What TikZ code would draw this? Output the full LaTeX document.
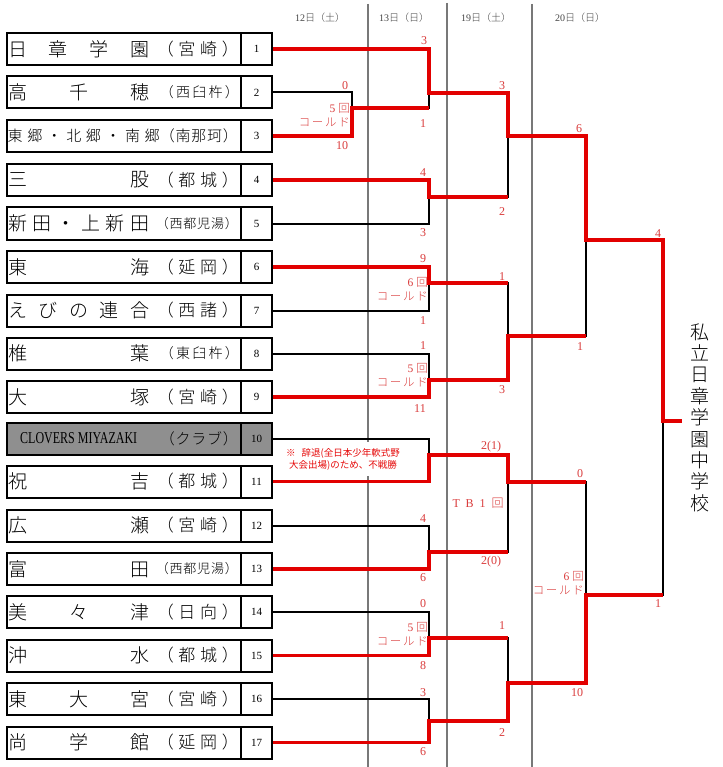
\documentclass[tikz,border=0pt]{standalone}
\usepackage{fontspec}
\setmainfont{Liberation Serif}
\newfontfamily\jp{Noto Sans CJK JP Light}
\newfontfamily\jpn{Noto Sans CJK JP}
\definecolor{lnred}{RGB}{226,0,0}
\definecolor{txtred}{RGB}{218,60,60}
\definecolor{notered}{RGB}{230,10,10}
\definecolor{sepgray}{RGB}{120,120,120}
\definecolor{boxgray}{RGB}{143,143,143}
\definecolor{hdrgray}{RGB}{70,70,70}
\newcommand\jspread[2]{\makebox[#1][s]{#2}}
\begin{document}
\begin{tikzpicture}[x=1pt,y=-1pt,
 namebox/.style={draw, line width=2pt, minimum width=234pt, minimum height=32pt, inner sep=0pt},
 numbox/.style={draw, line width=2pt, minimum width=31pt, minimum height=32pt, inner sep=0pt, font=\fontsize{11}{11}\selectfont},
 tname/.style={anchor=west, inner sep=0pt, font=\fontsize{19}{19}\jp},
 tpref/.style={anchor=east, inner sep=0pt},
 blk/.style={line width=2pt, black, line join=miter},
 rd/.style={line width=3.5pt, lnred, line join=miter},
 sc/.style={text=txtred, inner sep=0pt, font=\fontsize{12}{12}\selectfont},
 cold/.style={text=txtred, inner sep=0pt, anchor=east, align=right, font=\fontsize{11.5}{14.5}\selectfont},
 sepline/.style={line width=1.1pt, sepgray},
 hdr/.style={text=hdrgray, inner sep=0pt, font=\fontsize{10}{10}\selectfont}
]
\useasboundingbox (0,0) rectangle (722,767);
\fill[white] (0,0) rectangle (722,767);

% column separators
\draw[sepline] (368,4) -- (368,767);
\draw[sepline] (447,3) -- (447,767);
\draw[sepline] (532,4) -- (532,767);

% header
\node[hdr] (h1) at (320,18) {12{\jp 日（土）}};
\node[hdr] (h2) at (404,18) {13{\jp 日（日）}};
\node[hdr] (h3) at (486,18) {19{\jp 日（土）}};
\node[hdr] (h4) at (580,18) {20{\jp 日（日）}};

% team boxes
\foreach \i/\y in {1/49,2/92.5,3/136,4/180,5/223.5,6/267,7/310.5,8/353.5,9/397,11/481.5,12/525.5,13/569,14/612,15/655.5,16/699,17/742.5}{
  \node[namebox] (b\i) at (124,\y) {};
  \node[numbox] (n\i) at (256.5,\y) {\i};
}
\node[namebox, fill=boxgray] (b10) at (124,438.5) {};
\node[numbox, fill=boxgray] (n10) at (256.5,438.5) {10};

% team names
\node[tname] (a1) at (8,49) {\jspread{141pt}{日\hfill 章\hfill 学\hfill 園}};
\node[tpref, font=\fontsize{17}{17}\jp] (p1) at (239,49) {\jspread{82pt}{（\hfill 宮\hfill 崎\hfill ）}};
\node[tname] (a2) at (8,92.5) {\jspread{141pt}{高\hfill 千\hfill 穂}};
\node[tpref, font=\fontsize{14}{14}\jp] (p2) at (239,92.5) {\jspread{79pt}{（\hfill 西\hfill 臼\hfill 杵\hfill ）}};
\node[tname, font=\fontsize{15}{15}\jp] (a3) at (7.5,136) {\jspread{152pt}{東\hfill 郷\hfill ・\hfill 北\hfill 郷\hfill ・\hfill 南\hfill 郷}};
\node[tpref, font=\fontsize{15}{15}\jp] (p3) at (238,136) {\jspread{78pt}{（\hfill 南\hfill 那\hfill 珂\hfill ）}};
\node[tname] (a4) at (8,180) {\jspread{141pt}{三\hfill 股}};
\node[tpref, font=\fontsize{17}{17}\jp] (p4) at (239,180) {\jspread{82pt}{（\hfill 都\hfill 城\hfill ）}};
\node[tname] (a5) at (8,223.5) {\jspread{141pt}{新\hfill 田\hfill ・\hfill 上\hfill 新\hfill 田}};
\node[tpref, font=\fontsize{13}{13}\jp] (p5) at (238,223.5) {\jspread{82pt}{（\hfill 西\hfill 都\hfill 児\hfill 湯\hfill ）}};
\node[tname] (a6) at (8,267) {\jspread{141pt}{東\hfill 海}};
\node[tpref, font=\fontsize{17}{17}\jp] (p6) at (239,267) {\jspread{82pt}{（\hfill 延\hfill 岡\hfill ）}};
\node[tname] (a7) at (8,310.5) {\jspread{141pt}{え\hfill び\hfill の\hfill 連\hfill 合}};
\node[tpref, font=\fontsize{17}{17}\jp] (p7) at (239,310.5) {\jspread{82pt}{（\hfill 西\hfill 諸\hfill ）}};
\node[tname] (a8) at (8,353.5) {\jspread{141pt}{椎\hfill 葉}};
\node[tpref, font=\fontsize{14}{14}\jp] (p8) at (239,353.5) {\jspread{79pt}{（\hfill 東\hfill 臼\hfill 杵\hfill ）}};
\node[tname] (a9) at (8,397) {\jspread{141pt}{大\hfill 塚}};
\node[tpref, font=\fontsize{17}{17}\jp] (p9) at (239,397) {\jspread{82pt}{（\hfill 宮\hfill 崎\hfill ）}};
\node[anchor=west, inner sep=0pt] (a10) at (20,438.5) {\resizebox{117pt}{11pt}{\fontsize{14}{14}\selectfont CLOVERS MIYAZAKI}};
\node[tpref, font=\fontsize{15}{15}\jp] (p10) at (238,438.5) {\jspread{78pt}{（\hfill ク\hfill ラ\hfill ブ\hfill ）}};
\node[tname] (a11) at (8,481.5) {\jspread{141pt}{祝\hfill 吉}};
\node[tpref, font=\fontsize{17}{17}\jp] (p11) at (239,481.5) {\jspread{82pt}{（\hfill 都\hfill 城\hfill ）}};
\node[tname] (a12) at (8,525.5) {\jspread{141pt}{広\hfill 瀬}};
\node[tpref, font=\fontsize{17}{17}\jp] (p12) at (239,525.5) {\jspread{82pt}{（\hfill 宮\hfill 崎\hfill ）}};
\node[tname] (a13) at (8,569) {\jspread{141pt}{富\hfill 田}};
\node[tpref, font=\fontsize{13}{13}\jp] (p13) at (238,569) {\jspread{82pt}{（\hfill 西\hfill 都\hfill 児\hfill 湯\hfill ）}};
\node[tname] (a14) at (8,612) {\jspread{141pt}{美\hfill 々\hfill 津}};
\node[tpref, font=\fontsize{17}{17}\jp] (p14) at (239,612) {\jspread{82pt}{（\hfill 日\hfill 向\hfill ）}};
\node[tname] (a15) at (8,655.5) {\jspread{141pt}{沖\hfill 水}};
\node[tpref, font=\fontsize{17}{17}\jp] (p15) at (239,655.5) {\jspread{82pt}{（\hfill 都\hfill 城\hfill ）}};
\node[tname] (a16) at (8,699) {\jspread{141pt}{東\hfill 大\hfill 宮}};
\node[tpref, font=\fontsize{17}{17}\jp] (p16) at (239,699) {\jspread{82pt}{（\hfill 宮\hfill 崎\hfill ）}};
\node[tname] (a17) at (8,742.5) {\jspread{141pt}{尚\hfill 学\hfill 館}};
\node[tpref, font=\fontsize{17}{17}\jp] (p17) at (239,742.5) {\jspread{82pt}{（\hfill 延\hfill 岡\hfill ）}};

% note box
\node[fill=white, inner xsep=6pt, inner ysep=6pt, align=center, text=notered, font=\fontsize{9.5}{12}\jpn] (note) at (343,459)
  {※\hspace{6pt}辞退(全日本少年軟式野\\大会出場)のため、不戦勝};

% champion
\node[align=center, inner xsep=8.5pt, inner ysep=0pt, font=\fontsize{19}{21.4}\jp] (champ) at (700,417.5)
  {私\\立\\日\\章\\学\\園\\中\\学\\校};

% match points
\coordinate (m23) at (352,108);
\coordinate (m1) at (429,93);
\coordinate (m45) at (429,197);
\coordinate (mA) at (508,136);
\coordinate (m67) at (429,283);
\coordinate (m89) at (429,380);
\coordinate (mB) at (508,336);
\coordinate (s1) at (586,240);
\coordinate (m1011) at (429,455);
\coordinate (m1213) at (429,552);
\coordinate (mC) at (508,482);
\coordinate (m1415) at (429,638);
\coordinate (m1617) at (429,721);
\coordinate (mD) at (508,683);
\coordinate (s2) at (586,595);
\coordinate (fin) at (663,421);

% black bracket
\draw[blk] (n2.east) -| (m23); \draw[blk] (n3.east) -| (m23);
\draw[blk] (n1.east) -| (m1); \draw[blk] (m23) -| (m1);
\draw[blk] (n4.east) -| (m45); \draw[blk] (n5.east) -| (m45);
\draw[blk] (m1) -| (mA); \draw[blk] (m45) -| (mA);
\draw[blk] (n6.east) -| (m67); \draw[blk] (n7.east) -| (m67);
\draw[blk] (n8.east) -| (m89); \draw[blk] (n9.east) -| (m89);
\draw[blk] (m67) -| (mB); \draw[blk] (m89) -| (mB);
\draw[blk] (mA) -| (s1); \draw[blk] (mB) -| (s1);
\draw[blk] (n10.east) -| (m1011); \draw[blk] (n11.east) -| (m1011);
\draw[blk] (n12.east) -| (m1213); \draw[blk] (n13.east) -| (m1213);
\draw[blk] (m1011) -| (mC); \draw[blk] (m1213) -| (mC);
\draw[blk] (n14.east) -| (m1415); \draw[blk] (n15.east) -| (m1415);
\draw[blk] (n16.east) -| (m1617); \draw[blk] (n17.east) -| (m1617);
\draw[blk] (m1415) -| (mD); \draw[blk] (m1617) -| (mD);
\draw[blk] (mC) -| (s2); \draw[blk] (mD) -| (s2);
\draw[blk] (s1) -| (fin); \draw[blk] (s2) -| (fin);

% red winner paths
\draw[rd] (n3.east) -| (m23) -- (m23 -| m1);
\draw[rd] (n1.east) -| (m1) -- (m1 -| mA);
\draw[rd] (n4.east) -| (m45) -- (m45 -| mA);
\draw[rd] (m1) -| (mA) -- (mA -| s1);
\draw[rd] (n6.east) -| (m67) -- (m67 -| mB);
\draw[rd] (n9.east) -| (m89) -- (m89 -| mB);
\draw[rd] (m89) -| (mB) -- (mB -| s1);
\draw[rd] (mA) -| (s1) -- (s1 -| fin);
\draw[rd] (n11.east) -| (m1011) -- (m1011 -| mC);
\draw[rd] (n13.east) -| (m1213) -- (m1213 -| mC);
\draw[rd] (m1011) -| (mC) -- (mC -| s2);
\draw[rd] (n15.east) -| (m1415) -- (m1415 -| mD);
\draw[rd] (n17.east) -| (m1617) -- (m1617 -| mD);
\draw[rd] (m1617) -| (mD) -- (mD -| s2);
\draw[rd] (mD) -| (s2) -- (s2 -| fin);
\draw[rd] (s1) -| (fin) -- (fin -| champ.west);

% scores
\node[sc] (sa1) at (345,86) {0};
\node[cold] (sa2) at (350,115) {5\hspace{3pt}{\jp 回}\\\jspread{51pt}{\jp コ\hfill ー\hfill ル\hfill ド}};
\node[sc] (sa3) at (342,146) {10};
\node[sc] (sb1) at (424,41) {3};
\node[sc] (sb2) at (423,124) {1};
\node[sc] (sc1) at (423,173) {4};
\node[sc] (sc2) at (423,233) {3};
\node[sc] (sd1) at (502,86) {3};
\node[sc] (sd2) at (502,212) {2};
\node[sc] (se1) at (423,259) {9};
\node[cold] (se2) at (428,289) {6\hspace{3pt}{\jp 回}\\\jspread{51pt}{\jp コ\hfill ー\hfill ル\hfill ド}};
\node[sc] (se3) at (423,321) {1};
\node[sc] (sf1) at (423,346) {1};
\node[cold] (sf2) at (428,375) {5\hspace{3pt}{\jp 回}\\\jspread{51pt}{\jp コ\hfill ー\hfill ル\hfill ド}};
\node[sc] (sf3) at (420,409) {11};
\node[sc] (sg1) at (502,277) {1};
\node[sc] (sg2) at (502,390) {3};
\node[sc] (sh1) at (579,129) {6};
\node[sc] (sh2) at (580,347) {1};
\node[sc] (si1) at (423,519) {4};
\node[sc] (si2) at (423,578) {6};
\node[sc] (sj1) at (491,447) {2(1)};
\node[sc] (sj2) at (478,503) {\jspread{51pt}{T\hfill B\hfill 1\hfill{\jp 回}}};
\node[sc] (sj3) at (491,562) {2(0)};
\node[sc] (sk1) at (423,604) {0};
\node[cold] (sk2) at (428,634) {5\hspace{3pt}{\jp 回}\\\jspread{51pt}{\jp コ\hfill ー\hfill ル\hfill ド}};
\node[sc] (sk3) at (423,666) {8};
\node[sc] (sl1) at (423,693) {3};
\node[sc] (sl2) at (423,752) {6};
\node[sc] (sm1) at (502,626) {1};
\node[sc] (sm2) at (502,733) {2};
\node[sc] (sn1) at (580,474) {0};
\node[cold] (sn2) at (584,583) {6\hspace{3pt}{\jp 回}\\\jspread{51pt}{\jp コ\hfill ー\hfill ル\hfill ド}};
\node[sc] (sn3) at (577,693) {10};
\node[sc] (so1) at (658,234) {4};
\node[sc] (so2) at (658,604) {1};
\end{tikzpicture}
\end{document}
